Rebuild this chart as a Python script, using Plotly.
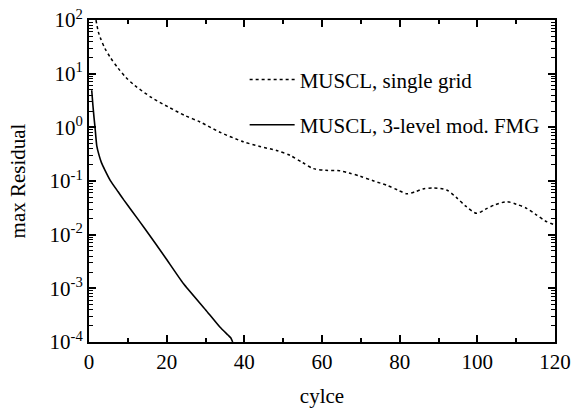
import plotly.graph_objects as go

single_x = [1.8, 2.4, 3.0, 4.1, 5.5, 7.5, 9.5, 11.8, 16.1, 20.4, 24.7, 28.6, 33.7, 39.7, 44.0,
            48.3, 51.8, 55.0, 57.8, 61.0, 64.6, 67.0, 69.8, 73.0, 76.7, 79.5, 81.8, 84.0, 86.0,
            88.7, 92.1, 94.5, 97.0, 99.8, 102.0, 104.5, 107.6, 110.0, 112.7, 115.0, 117.5, 119.6, 120.0]
single_y = [100, 60, 45, 29.5, 20, 12.6, 8.5, 6.0, 3.6, 2.4, 1.66, 1.26, 0.81, 0.54, 0.44,
            0.37, 0.30, 0.22, 0.17, 0.158, 0.155, 0.141, 0.123, 0.102, 0.083, 0.068, 0.058, 0.063, 0.071,
            0.074, 0.068, 0.050, 0.034, 0.025, 0.0295, 0.036, 0.041, 0.037, 0.031, 0.024, 0.018, 0.0155, 0.015]

fmg_x = [0.7, 1.0, 1.3, 1.55, 2.0, 2.6, 3.2, 4.1, 5.5, 7.5, 9.0, 11.0, 14.4, 19.6, 24.3, 30.0, 33.7, 35.8, 36.5, 37.0]
fmg_y = [4.9, 2.6, 1.5, 1.0, 0.45, 0.30, 0.22, 0.16, 0.102, 0.063, 0.044, 0.028, 0.0129, 0.0038, 0.00123, 0.0004, 0.00019, 0.000135, 0.00012, 0.0001]

y_tickvals = [1e-4, 1e-3, 1e-2, 1e-1, 1e0, 1e1, 1e2]
y_ticktext = ["10<sup>-4</sup>", "10<sup>-3</sup>", "10<sup>-2</sup>", "10<sup>-1</sup>",
              "10<sup>0</sup>", "10<sup>1</sup>", "10<sup>2</sup>"]

FONT = "Liberation Serif, Times New Roman, serif"
FS = 21

fig = go.Figure()
fig.add_trace(go.Scatter(x=single_x, y=single_y, mode="lines", name="MUSCL, single grid",
                         line=dict(color="black", width=1.5, dash="dot", shape="spline", smoothing=0.8),
                         legendgroup="a"))
fig.add_trace(go.Scatter(x=fmg_x, y=fmg_y, mode="lines", name="MUSCL, 3-level mod. FMG",
                         line=dict(color="black", width=1.6, shape="spline", smoothing=0.5),
                         legendgroup="b"))

axis_common = dict(showline=True, linecolor="black", linewidth=2, mirror="allticks",
                   ticks="inside", tickcolor="black", tickwidth=1.5, ticklen=7,
                   showgrid=False, zeroline=False, automargin=False,
                   tickfont=dict(family=FONT, size=FS, color="black"))

fig.update_xaxes(range=[0, 120], dtick=20, tick0=0,
                 minor=dict(dtick=10, ticks="inside", ticklen=4, tickcolor="black", tickwidth=1.5),
                 title=dict(text="cylce", font=dict(family=FONT, size=FS, color="black"), standoff=15),
                 **axis_common)
fig.update_yaxes(type="log", range=[-4, 2], tickmode="array", tickvals=y_tickvals, ticktext=y_ticktext,
                 minor=dict(dtick="D1", ticks="inside", ticklen=4, tickcolor="black", tickwidth=1),
                 title=dict(text="max Residual", font=dict(family=FONT, size=FS, color="black"), standoff=18),
                 **axis_common)

fig.update_layout(
    width=575, height=413,
    margin=dict(l=89, r=20, t=20, b=71),
    plot_bgcolor="white", paper_bgcolor="white",
    font=dict(family=FONT, size=FS, color="black"),
    legend=dict(x=0.334, y=0.878, xanchor="left", yanchor="top", bgcolor="rgba(0,0,0,0)",
                itemwidth=45, tracegroupgap=15, font=dict(family=FONT, size=FS)),
)

fig.write_html("out.html")
